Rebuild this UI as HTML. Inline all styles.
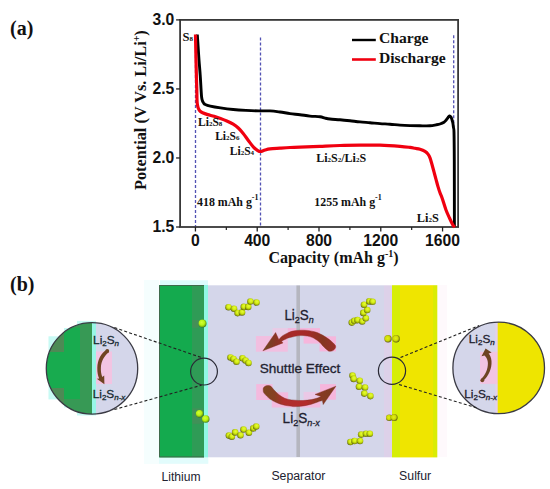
<!DOCTYPE html>
<html><head><meta charset="utf-8"><style>
html,body{margin:0;padding:0;background:#fff;}
body{width:550px;height:489px;overflow:hidden;position:relative;}
svg{position:absolute;left:0;top:0;}
.tk{font-family:"Liberation Sans",sans-serif;font-weight:bold;font-size:15.7px;fill:#111;}
.lg{font-family:"Liberation Serif",serif;font-weight:bold;font-size:15.6px;fill:#111;}
.an{font-family:"Liberation Serif",serif;font-weight:bold;font-size:11.5px;fill:#111;}
.an2{font-family:"Liberation Serif",serif;font-weight:bold;font-size:11.9px;fill:#111;}
.sb{font-size:7px;}
.sp{font-size:8px;}
.sp2{font-size:10px;}
.ax{font-family:"Liberation Serif",serif;font-weight:bold;font-size:16px;fill:#111;}
.pl{font-family:"Liberation Serif",serif;font-weight:bold;font-size:20px;fill:#111;}
.dg{font-family:"Liberation Sans",sans-serif;fill:#222230;}
</style></head><body>
<svg width="550" height="489" viewBox="0 0 550 489">
<line x1="195.5" y1="35" x2="195.5" y2="227.0" stroke="#5252b4" stroke-width="1.3" stroke-dasharray="2.9 2.1"/>
<line x1="260.5" y1="37.6" x2="260.5" y2="227.0" stroke="#5252b4" stroke-width="1.3" stroke-dasharray="2.9 2.1"/>
<line x1="453.7" y1="35.3" x2="453.7" y2="227.0" stroke="#5252b4" stroke-width="1.3" stroke-dasharray="2.9 2.1"/>
<rect x="180.1" y="19.9" width="278.0" height="207.1" fill="none" stroke="#383838" stroke-width="1.8"/>
<line x1="195.44" y1="227.0" x2="195.44" y2="231.5" stroke="#222" stroke-width="1.3"/>
<text x="195.44" y="245.6" class="tk" text-anchor="middle">0</text>
<line x1="257.22" y1="227.0" x2="257.22" y2="231.5" stroke="#222" stroke-width="1.3"/>
<text x="257.22" y="245.6" class="tk" text-anchor="middle">400</text>
<line x1="319.00" y1="227.0" x2="319.00" y2="231.5" stroke="#222" stroke-width="1.3"/>
<text x="319.00" y="245.6" class="tk" text-anchor="middle">800</text>
<line x1="380.78" y1="227.0" x2="380.78" y2="231.5" stroke="#222" stroke-width="1.3"/>
<text x="380.78" y="245.6" class="tk" text-anchor="middle">1200</text>
<line x1="442.56" y1="227.0" x2="442.56" y2="231.5" stroke="#222" stroke-width="1.3"/>
<text x="442.56" y="245.6" class="tk" text-anchor="middle">1600</text>
<line x1="226.33" y1="227.0" x2="226.33" y2="230.0" stroke="#222" stroke-width="1.2"/>
<line x1="288.11" y1="227.0" x2="288.11" y2="230.0" stroke="#222" stroke-width="1.2"/>
<line x1="349.89" y1="227.0" x2="349.89" y2="230.0" stroke="#222" stroke-width="1.2"/>
<line x1="411.67" y1="227.0" x2="411.67" y2="230.0" stroke="#222" stroke-width="1.2"/>
<line x1="176.1" y1="19.90" x2="180.1" y2="19.90" stroke="#222" stroke-width="1.3"/>
<text x="174.3" y="24.50" class="tk" text-anchor="end">3.0</text>
<line x1="176.1" y1="88.94" x2="180.1" y2="88.94" stroke="#222" stroke-width="1.3"/>
<text x="174.3" y="93.53" class="tk" text-anchor="end">2.5</text>
<line x1="176.1" y1="157.97" x2="180.1" y2="157.97" stroke="#222" stroke-width="1.3"/>
<text x="174.3" y="162.57" class="tk" text-anchor="end">2.0</text>
<line x1="176.1" y1="227.00" x2="180.1" y2="227.00" stroke="#222" stroke-width="1.3"/>
<text x="174.3" y="231.60" class="tk" text-anchor="end">1.5</text>
<path d="M197.30,34.50 C197.42,36.25 197.72,40.75 198.00,45.00 C198.28,49.25 198.63,55.00 199.00,60.00 C199.37,65.00 199.85,70.00 200.20,75.00 C200.55,80.00 200.87,86.33 201.10,90.00 C201.33,93.67 201.40,95.25 201.60,97.00 C201.80,98.75 201.97,99.50 202.30,100.50 C202.63,101.50 203.12,102.33 203.60,103.00 C204.08,103.67 204.08,103.98 205.20,104.50 C206.32,105.02 207.75,105.53 210.30,106.10 C212.85,106.67 216.68,107.33 220.50,107.90 C224.32,108.47 228.97,109.08 233.20,109.50 C237.43,109.92 241.67,110.17 245.90,110.40 C250.13,110.63 254.58,110.82 258.60,110.90 C262.62,110.98 266.43,110.72 270.00,110.90 C273.57,111.08 276.67,111.55 280.00,112.00 C283.33,112.45 286.67,113.15 290.00,113.60 C293.33,114.05 296.67,114.28 300.00,114.70 C303.33,115.12 306.67,115.77 310.00,116.10 C313.33,116.43 317.50,116.37 320.00,116.70 C322.50,117.03 323.33,117.72 325.00,118.10 C326.67,118.48 327.50,118.72 330.00,119.00 C332.50,119.28 336.67,119.50 340.00,119.80 C343.33,120.10 346.67,120.45 350.00,120.80 C353.33,121.15 356.67,121.58 360.00,121.90 C363.33,122.22 366.67,122.42 370.00,122.70 C373.33,122.98 376.67,123.35 380.00,123.60 C383.33,123.85 386.67,123.95 390.00,124.20 C393.33,124.45 396.67,124.87 400.00,125.10 C403.33,125.33 406.67,125.48 410.00,125.60 C413.33,125.72 416.67,125.77 420.00,125.80 C423.33,125.83 427.33,125.95 430.00,125.80 C432.67,125.65 434.33,125.20 436.00,124.90 C437.67,124.60 438.67,124.45 440.00,124.00 C441.33,123.55 443.00,122.82 444.00,122.20 C445.00,121.58 445.33,121.07 446.00,120.30 C446.67,119.53 447.42,118.33 448.00,117.60 C448.58,116.87 449.00,115.98 449.50,115.90 C450.00,115.82 450.58,116.45 451.00,117.10 C451.42,117.75 451.70,118.87 452.00,119.80 C452.30,120.73 452.55,121.40 452.80,122.70 C453.05,124.00 453.30,126.05 453.50,127.60 C453.70,129.15 453.87,126.60 454.00,132.00 C454.13,137.40 454.23,144.17 454.30,160.00 C454.37,175.83 454.38,215.83 454.40,227.00" fill="none" stroke="#000" stroke-width="2.9" stroke-linejoin="round"/>
<path d="M195.50,34.50 C195.55,37.08 195.72,45.75 195.80,50.00 C195.88,54.25 195.88,55.00 196.00,60.00 C196.12,65.00 196.37,75.00 196.50,80.00 C196.63,85.00 196.72,86.67 196.80,90.00 C196.88,93.33 196.92,97.67 197.00,100.00 C197.08,102.33 197.10,102.67 197.30,104.00 C197.50,105.33 197.78,106.87 198.20,108.00 C198.62,109.13 199.07,110.02 199.80,110.80 C200.53,111.58 201.28,112.07 202.60,112.70 C203.92,113.33 205.78,114.00 207.70,114.60 C209.62,115.20 211.97,115.65 214.10,116.30 C216.23,116.95 218.38,117.72 220.50,118.50 C222.62,119.28 224.68,120.05 226.80,121.00 C228.92,121.95 231.28,123.03 233.20,124.20 C235.12,125.37 236.60,126.42 238.30,128.00 C240.00,129.58 241.70,131.58 243.40,133.70 C245.10,135.82 246.82,138.47 248.50,140.70 C250.18,142.93 252.02,145.50 253.50,147.10 C254.98,148.70 256.23,149.57 257.40,150.30 C258.57,151.03 259.23,151.55 260.50,151.50 C261.77,151.45 263.42,150.45 265.00,150.00 C266.58,149.55 267.50,149.12 270.00,148.80 C272.50,148.48 276.67,148.32 280.00,148.10 C283.33,147.88 286.67,147.65 290.00,147.50 C293.33,147.35 295.00,147.40 300.00,147.20 C305.00,147.00 313.33,146.58 320.00,146.30 C326.67,146.02 333.33,145.68 340.00,145.50 C346.67,145.32 353.33,145.25 360.00,145.20 C366.67,145.15 373.33,145.02 380.00,145.20 C386.67,145.38 395.00,145.93 400.00,146.30 C405.00,146.67 407.50,147.07 410.00,147.40 C412.50,147.73 413.33,148.00 415.00,148.30 C416.67,148.60 418.33,148.70 420.00,149.20 C421.67,149.70 423.67,150.48 425.00,151.30 C426.33,152.12 427.17,153.02 428.00,154.10 C428.83,155.18 429.33,156.07 430.00,157.80 C430.67,159.53 431.33,162.15 432.00,164.50 C432.67,166.85 433.33,169.43 434.00,171.90 C434.67,174.37 435.33,176.85 436.00,179.30 C436.67,181.75 437.33,184.35 438.00,186.60 C438.67,188.85 439.33,190.95 440.00,192.80 C440.67,194.65 441.00,194.83 442.00,197.70 C443.00,200.57 444.75,206.62 446.00,210.00 C447.25,213.38 448.35,215.50 449.50,218.00 C450.65,220.50 452.02,223.47 452.90,225.00 C453.78,226.53 454.48,226.83 454.80,227.20" fill="none" stroke="#f00010" stroke-width="3.2" stroke-linejoin="round"/>
<line x1="352" y1="40" x2="375.8" y2="40" stroke="#000" stroke-width="2.4"/>
<line x1="352" y1="59.5" x2="375.8" y2="59.5" stroke="#f00010" stroke-width="2.6"/>
<text x="379" y="43" class="lg">Charge</text>
<text x="379" y="63" class="lg">Discharge</text>
<text x="182.5" y="41.4" class="an" style="font-size:12.5px">S<tspan class="sb">8</tspan></text>
<text x="198" y="126.1" class="an">Li<tspan class="sb">2</tspan>S<tspan class="sb">8</tspan></text>
<text x="215.2" y="139.5" class="an">Li<tspan class="sb">2</tspan>S<tspan class="sb">6</tspan></text>
<text x="229.8" y="154.7" class="an">Li<tspan class="sb">2</tspan>S<tspan class="sb">4</tspan></text>
<text x="316.2" y="161.8" class="an" style="font-size:12px">Li<tspan class="sb">2</tspan>S<tspan class="sb">2</tspan>/Li<tspan class="sb">2</tspan>S</text>
<text x="416.8" y="221.5" class="an" style="font-size:12.3px">Li<tspan class="sb">2</tspan>S</text>
<text x="197" y="206.1" class="an2">418 mAh g<tspan class="sp" dy="-6.3">-1</tspan></text>
<text x="314.3" y="205.9" class="an2">1255 mAh g<tspan class="sp" dy="-6.3">-1</tspan></text>
<text x="268.5" y="262.5" class="ax">Capacity (mAh g<tspan class="sp2" dy="-6">-1</tspan><tspan dy="6">)</tspan></text>
<text transform="translate(146,190) rotate(-90)" class="ax" style="font-size:16.3px">Potential (V Vs. Li/Li<tspan class="sp2" dy="-6">+</tspan><tspan dy="6">)</tspan></text>
<text x="10" y="34.7" class="pl">(a)</text>
<text x="10" y="290.5" class="pl">(b)</text>
<defs>
<radialGradient id="ball" cx="0.54" cy="0.42" r="0.62" fx="0.58" fy="0.34">
<stop offset="0" stop-color="#e6fa38"/><stop offset="0.45" stop-color="#d4ee14"/><stop offset="0.75" stop-color="#a0b008"/><stop offset="1" stop-color="#464a10"/></radialGradient>
<radialGradient id="oball" cx="0.45" cy="0.45" r="0.6" fx="0.45" fy="0.45">
<stop offset="0" stop-color="#e4f010"/><stop offset="0.55" stop-color="#ccd808"/><stop offset="0.85" stop-color="#7a7a10"/><stop offset="1" stop-color="#3a3a14"/></radialGradient>
<radialGradient id="gball" cx="0.45" cy="0.42" r="0.6" fx="0.38" fy="0.35">
<stop offset="0" stop-color="#d4ff38"/><stop offset="0.55" stop-color="#b8f414"/><stop offset="0.85" stop-color="#74a810"/><stop offset="1" stop-color="#2e6424"/></radialGradient>
<linearGradient id="arrU" gradientUnits="userSpaceOnUse" x1="263" y1="0" x2="336" y2="0">
<stop offset="0" stop-color="#6a4a22"/><stop offset="0.18" stop-color="#8a3424"/><stop offset="0.4" stop-color="#a82a28"/><stop offset="0.62" stop-color="#a42a27"/><stop offset="0.82" stop-color="#84361f"/><stop offset="1" stop-color="#98302a"/></linearGradient>
<linearGradient id="arrD" gradientUnits="userSpaceOnUse" x1="263" y1="0" x2="336" y2="0">
<stop offset="0" stop-color="#7e4620"/><stop offset="0.16" stop-color="#874022"/><stop offset="0.28" stop-color="#ae2e2c"/><stop offset="0.6" stop-color="#b42c2c"/><stop offset="0.75" stop-color="#8a3a22"/><stop offset="1" stop-color="#7a3c20"/></linearGradient>
<clipPath id="cl"><circle cx="92" cy="368.4" r="45.7"/></clipPath>
<clipPath id="cr"><circle cx="498.7" cy="367.9" r="45.8"/></clipPath>
</defs>
<rect x="160" y="280.3" width="48" height="5" fill="#dcfcfc"/>
<rect x="159" y="457.4" width="49.3" height="6.4" fill="#e2fcfc"/>
<rect x="144" y="280" width="15" height="184" fill="#f5fefe"/>
<rect x="437" y="285" width="10" height="172" fill="#fef9fc"/>
<rect x="159" y="285" width="33" height="172.4" fill="#14aa4e"/>
<rect x="192" y="285" width="12" height="172.4" fill="#2f9b56"/>
<rect x="204" y="285" width="4" height="172.4" fill="#90f8e4"/>
<path d="M204,285.5 H159.5 V456.9 H204" fill="none" stroke="#3e6a4c" stroke-width="1"/>
<rect x="208" y="285.3" width="176" height="172" fill="#d4d6ea"/>
<rect x="384" y="285.3" width="8" height="172" fill="#ddd1e9"/>
<rect x="392" y="285.2" width="8" height="172.2" fill="#d6ee06"/>
<rect x="400" y="285.2" width="33" height="172.2" fill="#efe500"/>
<rect x="433" y="285.2" width="4.3" height="172.2" fill="#daec04"/>
<rect x="255.9" y="336" width="31.9" height="15.7" fill="#f1bfe0"/>
<rect x="272.5" y="328.1" width="15.3" height="7.9" fill="#e9cbe6"/>
<rect x="287.8" y="328.1" width="32.2" height="5.9" fill="#f6b6dc"/>
<rect x="303.6" y="336.3" width="32.4" height="7.3" fill="#f6b6dc"/>
<rect x="319.5" y="343.6" width="16.5" height="7.8" fill="#f6b6dc"/>
<rect x="256.2" y="384.1" width="16.4" height="15.9" fill="#f4bade"/>
<rect x="272.6" y="392.3" width="15.5" height="7.7" fill="#f4bade"/>
<rect x="271.8" y="400" width="48.6" height="7.5" fill="#f4bade"/>
<rect x="320" y="384.1" width="15.9" height="15.6" fill="#f6b6dc"/>
<rect x="303.6" y="391.9" width="16.4" height="7.8" fill="#eac8e6"/>
<rect x="296.4" y="285.5" width="3.6" height="171.5" fill="#b5b6bf"/>
<rect x="192.1" y="320" width="6.6" height="7.7" fill="#4e8a5a" opacity="0.7"/>
<rect x="192.4" y="408.4" width="10.9" height="15.4" fill="#4e8a5a" opacity="0.6"/>
<path d="M335.10,344.90 C334.15,344.02 331.58,341.28 329.40,339.60 C327.22,337.92 324.32,336.07 322.00,334.80 C319.68,333.53 317.95,332.73 315.50,332.00 C313.05,331.27 309.88,330.70 307.30,330.40 C304.72,330.10 302.38,330.10 300.00,330.20 C297.62,330.30 295.05,330.55 293.00,331.00 C290.95,331.45 289.48,332.08 287.70,332.90 C285.92,333.72 283.78,334.78 282.30,335.90 C280.82,337.02 279.38,338.98 278.80,339.60 L275.6,332.5 L262.9,350.8 L283,342.9 L281.50,341.20 C282.17,340.87 284.08,339.82 285.50,339.20 C286.92,338.58 287.58,338.10 290.00,337.50 C292.42,336.90 297.12,335.83 300.00,335.60 C302.88,335.37 305.05,335.70 307.30,336.10 C309.55,336.50 311.47,336.98 313.50,338.00 C315.53,339.02 317.82,340.75 319.50,342.20 C321.18,343.65 322.12,345.23 323.60,346.70 C325.08,348.17 327.60,350.28 328.40,351.00 C331,352 334.5,350.5 335.6,347.5 Q336,346 335.1,344.9 Z" fill="url(#arrU)" stroke="#8a2a22" stroke-width="0.4"/>
<path d="M272.20,387.80 C272.88,388.55 274.67,390.80 276.30,392.30 C277.93,393.80 280.10,395.65 282.00,396.80 C283.90,397.95 285.53,398.63 287.70,399.20 C289.87,399.77 292.45,399.98 295.00,400.20 C297.55,400.42 300.27,400.60 303.00,400.50 C305.73,400.40 308.98,400.02 311.40,399.60 C313.82,399.18 315.87,398.50 317.50,398.00 C319.13,397.50 320.58,396.83 321.20,396.60 L315,394.4 L335.9,386.2 L323.2,404.6 L322.40,400.60 C321.65,400.82 319.73,401.30 317.90,401.90 C316.07,402.50 313.88,403.52 311.40,404.20 C308.92,404.88 305.73,405.60 303.00,406.00 C300.27,406.40 296.87,406.55 295.00,406.60 C293.13,406.65 293.70,406.57 291.80,406.30 C289.90,406.03 286.18,405.63 283.60,405.00 C281.02,404.37 278.62,403.53 276.30,402.50 C273.98,401.47 271.75,400.37 269.70,398.80 C267.65,397.23 265.08,394.60 264.00,393.10 C262.92,391.60 263.33,390.35 263.20,389.80 C262.8,387 265.5,385.3 268.9,385.6 C270.5,385.8 271.6,386.6 272.2,387.8 Z" fill="url(#arrD)" stroke="#7a2a20" stroke-width="0.4"/>
<circle cx="228.5" cy="307.3" r="3.3" fill="url(#ball)"/>
<circle cx="234" cy="308.7" r="3.3" fill="url(#ball)"/>
<circle cx="237.6" cy="313.1" r="3.3" fill="url(#ball)"/>
<circle cx="242" cy="312.4" r="3.3" fill="url(#ball)"/>
<circle cx="243.8" cy="306.9" r="3.3" fill="url(#ball)"/>
<circle cx="248.2" cy="306.9" r="3.3" fill="url(#ball)"/>
<circle cx="250.4" cy="301.5" r="3.3" fill="url(#ball)"/>
<circle cx="256.5" cy="302.5" r="3.3" fill="url(#ball)"/>
<circle cx="230.5" cy="357.5" r="3.3" fill="url(#ball)"/>
<circle cx="233.5" cy="359" r="3.3" fill="url(#ball)"/>
<circle cx="236.5" cy="361.8" r="3.3" fill="url(#ball)"/>
<circle cx="242.5" cy="358.3" r="3.3" fill="url(#ball)"/>
<circle cx="245.5" cy="360.5" r="3.3" fill="url(#ball)"/>
<circle cx="248.5" cy="363" r="3.3" fill="url(#ball)"/>
<circle cx="228.9" cy="435.6" r="3.3" fill="url(#ball)"/>
<circle cx="231.8" cy="436.7" r="3.3" fill="url(#ball)"/>
<circle cx="235.1" cy="432.4" r="3.3" fill="url(#ball)"/>
<circle cx="240.5" cy="435.3" r="3.3" fill="url(#ball)"/>
<circle cx="243.5" cy="429.5" r="3.3" fill="url(#ball)"/>
<circle cx="248.9" cy="432.7" r="3.3" fill="url(#ball)"/>
<circle cx="253.3" cy="428.4" r="3.3" fill="url(#ball)"/>
<circle cx="256.2" cy="426.5" r="3.3" fill="url(#ball)"/>
<circle cx="351.8" cy="322.6" r="3.3" fill="url(#ball)"/>
<circle cx="354.3" cy="320.8" r="3.3" fill="url(#ball)"/>
<circle cx="357.5" cy="320.1" r="3.3" fill="url(#ball)"/>
<circle cx="362.2" cy="321.5" r="3.3" fill="url(#ball)"/>
<circle cx="365.8" cy="318.3" r="3.3" fill="url(#ball)"/>
<circle cx="363.3" cy="312.9" r="3.3" fill="url(#ball)"/>
<circle cx="367.2" cy="310" r="3.3" fill="url(#ball)"/>
<circle cx="364" cy="304.7" r="3.3" fill="url(#ball)"/>
<circle cx="369.3" cy="301.4" r="3.3" fill="url(#ball)"/>
<circle cx="372.6" cy="301.8" r="3.3" fill="url(#ball)"/>
<circle cx="352.5" cy="375.6" r="3.3" fill="url(#ball)"/>
<circle cx="353.6" cy="378.9" r="3.3" fill="url(#ball)"/>
<circle cx="359.7" cy="380.7" r="3.3" fill="url(#ball)"/>
<circle cx="359" cy="386.8" r="3.3" fill="url(#ball)"/>
<circle cx="365" cy="387.5" r="3.3" fill="url(#ball)"/>
<circle cx="364.3" cy="393.6" r="3.3" fill="url(#ball)"/>
<circle cx="370.4" cy="396.1" r="3.3" fill="url(#ball)"/>
<circle cx="350.4" cy="442" r="3.3" fill="url(#ball)"/>
<circle cx="354.5" cy="441" r="3.3" fill="url(#ball)"/>
<circle cx="360" cy="441" r="3.3" fill="url(#ball)"/>
<circle cx="361.2" cy="434.6" r="3.3" fill="url(#ball)"/>
<circle cx="366" cy="433.7" r="3.3" fill="url(#ball)"/>
<circle cx="369.8" cy="433.7" r="3.3" fill="url(#ball)"/>
<circle cx="202.5" cy="323.5" r="4" fill="url(#gball)"/>
<circle cx="199.6" cy="413.7" r="3.8" fill="url(#gball)"/>
<circle cx="205.7" cy="419" r="3.8" fill="url(#gball)"/>
<circle cx="388" cy="338.7" r="3.7" fill="url(#oball)"/>
<circle cx="396.1" cy="338.7" r="3.7" fill="url(#oball)"/>
<circle cx="389.2" cy="417.7" r="3.2" fill="url(#oball)"/>
<circle cx="394.1" cy="417.5" r="3.5" fill="url(#oball)"/>
<rect x="77" y="320.9" width="19" height="94.6" fill="#c8faf4"/>
<rect x="64" y="328" width="13" height="79.5" fill="#c8faf4"/>
<rect x="48.5" y="336.3" width="16" height="63.1" fill="#c8faf4"/>
<g clip-path="url(#cl)">
<rect x="40" y="315" width="53" height="110" fill="#18ab4f"/>
<rect x="80" y="315" width="12" height="110" fill="#379955"/>
<rect x="40" y="315" width="40" height="12.7" fill="#379955"/>
<rect x="40" y="399" width="40" height="20" fill="#379955"/>
<rect x="40" y="327" width="24" height="25" fill="#4d8a55"/>
<rect x="40" y="388" width="24" height="15" fill="#4d8a55"/>
<rect x="92" y="315" width="4" height="110" fill="#98f6e6"/>
<rect x="96" y="315" width="45" height="110" fill="#d4d6ea"/>
<rect x="96" y="351.5" width="16" height="32.5" fill="#f2c4e2"/>
</g>
<path d="M106.9,349.6 C101,353 97.5,360 97.3,368 C97.2,372.5 98,376 99.2,378.5 L96.8,378.8 L104.4,384.3 L104.2,375.4 L102.3,377 C101.2,374 100.7,371 100.9,367.5 C101.2,361.5 104,356 108.6,352.6 Z" fill="#6e4322"/>
<circle cx="107.3" cy="351" r="1.9" fill="#6e4322"/>
<circle cx="92" cy="368.4" r="45.7" fill="none" stroke="#3a3a44" stroke-width="1.3"/>
<g clip-path="url(#cr)">
<rect x="450" y="318" width="46" height="100" fill="#d4d6ea"/>
<rect x="495.3" y="318" width="3" height="100" fill="#e4d0ea"/>
<rect x="480" y="351.8" width="17.6" height="32.1" fill="#f2c4e2"/>
<rect x="497.7" y="318" width="50" height="100" fill="#eee500"/>
</g>
<path d="M483,381 C489,376 492,368 491.5,361 C491.2,357.5 490,355 488.6,353.5 L491.6,352.6 L485.6,348.4 L481.5,356.2 L484.6,355.4 C486.8,357.5 487.8,360 487.9,363 C488,369 485.5,375 481,379 Z" fill="#6e4322"/>
<circle cx="482.3" cy="380.3" r="1.9" fill="#6e4322"/>
<circle cx="498.7" cy="367.9" r="45.8" fill="none" stroke="#3a3a44" stroke-width="1.3"/>
<circle cx="204" cy="371.6" r="13.4" fill="none" stroke="#2a2a36" stroke-width="1.2"/>
<circle cx="392" cy="370.8" r="13.6" fill="none" stroke="#2a2a36" stroke-width="1.2"/>
<line x1="114.4" y1="327.6" x2="201.6" y2="357.6" stroke="#222" stroke-width="1.1" stroke-dasharray="3 2.2" fill="none"/>
<line x1="114.4" y1="409.5" x2="201.6" y2="385.2" stroke="#222" stroke-width="1.1" stroke-dasharray="3 2.2" fill="none"/>
<line x1="400.5" y1="357.5" x2="479" y2="325.6" stroke="#222" stroke-width="1.1" stroke-dasharray="3 2.2" fill="none"/>
<line x1="399" y1="384.5" x2="476.4" y2="407.7" stroke="#222" stroke-width="1.1" stroke-dasharray="3 2.2" fill="none"/>
<text transform="translate(284.4,319.6) scale(0.943,1)" x="0" y="0" class="dg" font-size="14.2" fill="#1c1c2c" stroke="#1c1c2c" stroke-width="0.3">Li<tspan font-size="9.5" dy="3">2</tspan><tspan dy="-3">S</tspan><tspan font-size="9.5" font-style="italic" dy="3">n</tspan></text>
<text transform="translate(282.6,423.4) scale(0.955,1)" x="0" y="0" class="dg" font-size="14.2" fill="#1c1c2c" stroke="#1c1c2c" stroke-width="0.3">Li<tspan font-size="9.5" dy="3">2</tspan><tspan dy="-3">S</tspan><tspan font-size="9.5" font-style="italic" dy="3">n-x</tspan></text>
<text transform="translate(93.1,343.5) scale(1,1)" x="0" y="0" class="dg" font-size="11.8" fill="#123030" stroke="#123030" stroke-width="0.3">Li<tspan font-size="8" dy="2.5">2</tspan><tspan dy="-2.5">S</tspan><tspan font-size="8" font-style="italic" dy="2.5">n</tspan></text>
<text transform="translate(92.7,397.7) scale(1,1)" x="0" y="0" class="dg" font-size="11.8" fill="#123030" stroke="#123030" stroke-width="0.3">Li<tspan font-size="8" dy="2.5">2</tspan><tspan dy="-2.5">S</tspan><tspan font-size="8" font-style="italic" dy="2.5">n-x</tspan></text>
<text transform="translate(468.8,342.7) scale(1.0,1)" x="0" y="0" class="dg" font-size="11.8" fill="#1c1c2c" stroke="#1c1c2c" stroke-width="0.3">Li<tspan font-size="8" dy="2.5">2</tspan><tspan dy="-2.5">S</tspan><tspan font-size="8" font-style="italic" dy="2.5">n</tspan></text>
<text transform="translate(464.3,397.5) scale(1.0,1)" x="0" y="0" class="dg" font-size="11.8" fill="#1c1c2c" stroke="#1c1c2c" stroke-width="0.3">Li<tspan font-size="8" dy="2.5">2</tspan><tspan dy="-2.5">S</tspan><tspan font-size="8" font-style="italic" dy="2.5">n-x</tspan></text>
<text x="259.7" y="373" class="dg" font-size="13.6" stroke="#222230" stroke-width="0.3">Shuttle Effect</text>
<text x="161.5" y="480.8" class="dg" font-size="12.1">Lithium</text>
<text x="271.4" y="480.3" class="dg" font-size="12.3">Separator</text>
<text x="399.1" y="480" class="dg" font-size="12.3">Sulfur</text>
</svg>
</body></html>
